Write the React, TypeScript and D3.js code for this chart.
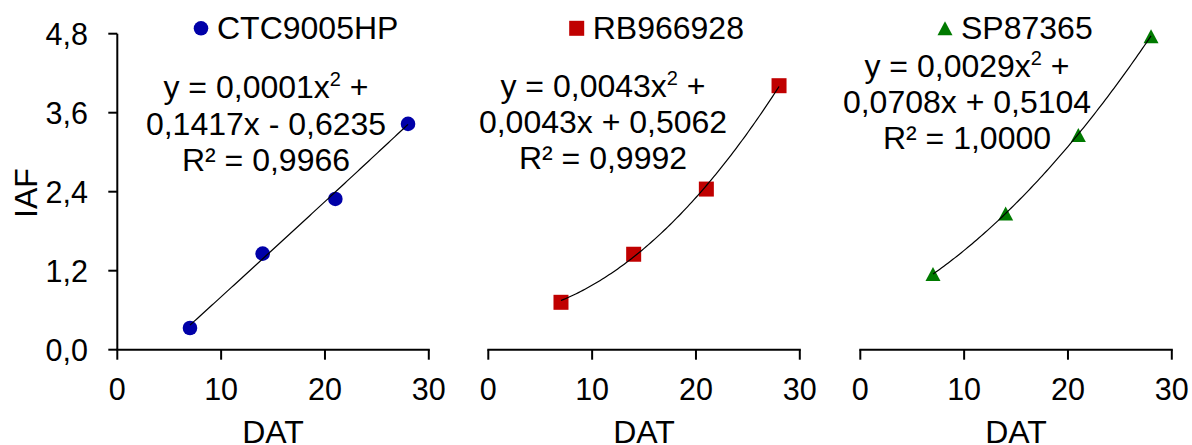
import React from "react";
import * as d3 from "d3";

const days = [7, 14, 21, 28];
const ctcValues = [0.33, 1.46, 2.29, 3.43];
const rbValues = [0.72, 1.45, 2.44, 4.01];
const spValues = [1.15, 2.07, 3.26, 4.76];

const seriesNames = ["CTC9005HP", "RB966928", "SP87365"];
const seriesColors = ["#0000A8", "#C00000", "#007A00"];
const seriesShapes = ["circle", "square", "triangle"];
// trendline coefficients [a, b, c] for y = a x^2 + b x + c
const coefA = [0.0001, 0.0043, 0.0029];
const coefB = [0.1417, 0.0043, 0.0708];
const coefC = [-0.6235, 0.5062, 0.5104];
const eqLine1 = ["y = 0,0001x", "y = 0,0043x", "y = 0,0029x"];
const eqLine2 = ["0,1417x - 0,6235", "0,0043x + 0,5062", "0,0708x + 0,5104"];
const eqLine3 = ["R² = 0,9966", "R² = 0,9992", "R² = 1,0000"];

const xTicks = [0, 10, 20, 30];
const yTicks = [0, 1.2, 2.4, 3.6, 4.8];
const yTickLabels = ["0,0", "1,2", "2,4", "3,6", "4,8"];

const W = 1192;
const H = 445;
const FONT = "'Liberation Sans', Arial, sans-serif";
const panelLeft = [117.3, 488.3, 860.3];
const panelWidth = 311.5;
const yTop = 33.7;
const yBottom = 349.7;
const eqCenter = [266, 603, 967];
const eqBase = [98.3, 96.7, 76.7];
const legendMarkX = [201, 576.7, 945];
const LABEL_FS = 32;

const y = d3.scaleLinear().domain([0, 4.8]).range([yBottom, yTop]);

function Marker({ shape, x, yv, color }: { shape: string; x: number; yv: number; color: string }) {
  if (shape === "circle") return <circle cx={x} cy={yv} r={7.3} fill={color} />;
  if (shape === "square") return <rect x={x - 7.5} y={yv - 7.5} width={15} height={15} fill={color} />;
  const h = 14;
  const w = 15;
  return (
    <path
      d={`M${x},${yv - h / 2}L${x + w / 2},${yv + h / 2}L${x - w / 2},${yv + h / 2}Z`}
      fill={color}
    />
  );
}

export default function App() {
  const all = [ctcValues, rbValues, spValues];
  return (
    <svg
      width={W}
      height={H}
      style={{ position: "absolute", left: 0, top: 0, background: "#fff" }}
      fontFamily={FONT}
    >
      <rect width={W} height={H} fill="#fff" />
      <line x1={panelLeft[0]} x2={panelLeft[0]} y1={yTop} y2={yBottom} stroke="#000" strokeWidth={2} />
      {yTicks.map((t, i) => (
        <g key={"yt" + i}>
          <line x1={panelLeft[0] - 9} x2={panelLeft[0]} y1={y(t)} y2={y(t)} stroke="#000" strokeWidth={2} />
          <text x={88} y={y(t) + 11} textAnchor="end" fontSize={30.5} fill="#000">
            {yTickLabels[i]}
          </text>
        </g>
      ))}
      <text transform={`translate(37,193) rotate(-90)`} textAnchor="middle" fontSize={LABEL_FS} fill="#000">
        IAF
      </text>
      {all.map((vals, p) => {
        const x = d3.scaleLinear().domain([0, 30]).range([panelLeft[p], panelLeft[p] + panelWidth]);
        const fx = (d: number) => coefA[p] * d * d + coefB[p] * d + coefC[p];
        const samples = d3.range(0, 101).map((k) => days[0] + ((days[days.length - 1] - days[0]) * k) / 100);
        const line = d3
          .line<number>()
          .x((d) => x(d))
          .y((d) => y(fx(d)));
        return (
          <g key={"p" + p}>
            <line x1={x(0) - 1} x2={x(30) + 1} y1={yBottom} y2={yBottom} stroke="#000" strokeWidth={2} />
            {xTicks.map((t) => (
              <g key={"xt" + t}>
                <line x1={x(t)} x2={x(t)} y1={yBottom} y2={yBottom + 10} stroke="#000" strokeWidth={2} />
                <text x={x(t)} y={399.5} textAnchor="middle" fontSize={30.5} fill="#000">
                  {t}
                </text>
              </g>
            ))}
            <text x={(x(0) + x(30)) / 2} y={443} textAnchor="middle" fontSize={LABEL_FS} fill="#000">
              DAT
            </text>
            {vals.map((v, i) => (
              <Marker key={"m" + i} shape={seriesShapes[p]} x={x(days[i])} yv={y(v)} color={seriesColors[p]} />
            ))}
            <path d={line(samples) || ""} fill="none" stroke="#000" strokeWidth={1.2} />
            <Marker shape={seriesShapes[p]} x={legendMarkX[p]} yv={28.3} color={seriesColors[p]} />
            <text x={legendMarkX[p] + 16} y={39.3} fontSize={LABEL_FS} fill="#000">
              {seriesNames[p]}
            </text>
            <text x={eqCenter[p]} y={eqBase[p]} textAnchor="middle" fontSize={LABEL_FS} fill="#000">
              {eqLine1[p]}
              <tspan fontSize={20} dy={-12}>2</tspan>
              <tspan dy={12}> +</tspan>
            </text>
            <text x={eqCenter[p]} y={eqBase[p] + 36.3} textAnchor="middle" fontSize={LABEL_FS} fill="#000">
              {eqLine2[p]}
            </text>
            <text x={eqCenter[p]} y={eqBase[p] + 72.6} textAnchor="middle" fontSize={LABEL_FS} fill="#000">
              {eqLine3[p]}
            </text>
          </g>
        );
      })}
    </svg>
  );
}
